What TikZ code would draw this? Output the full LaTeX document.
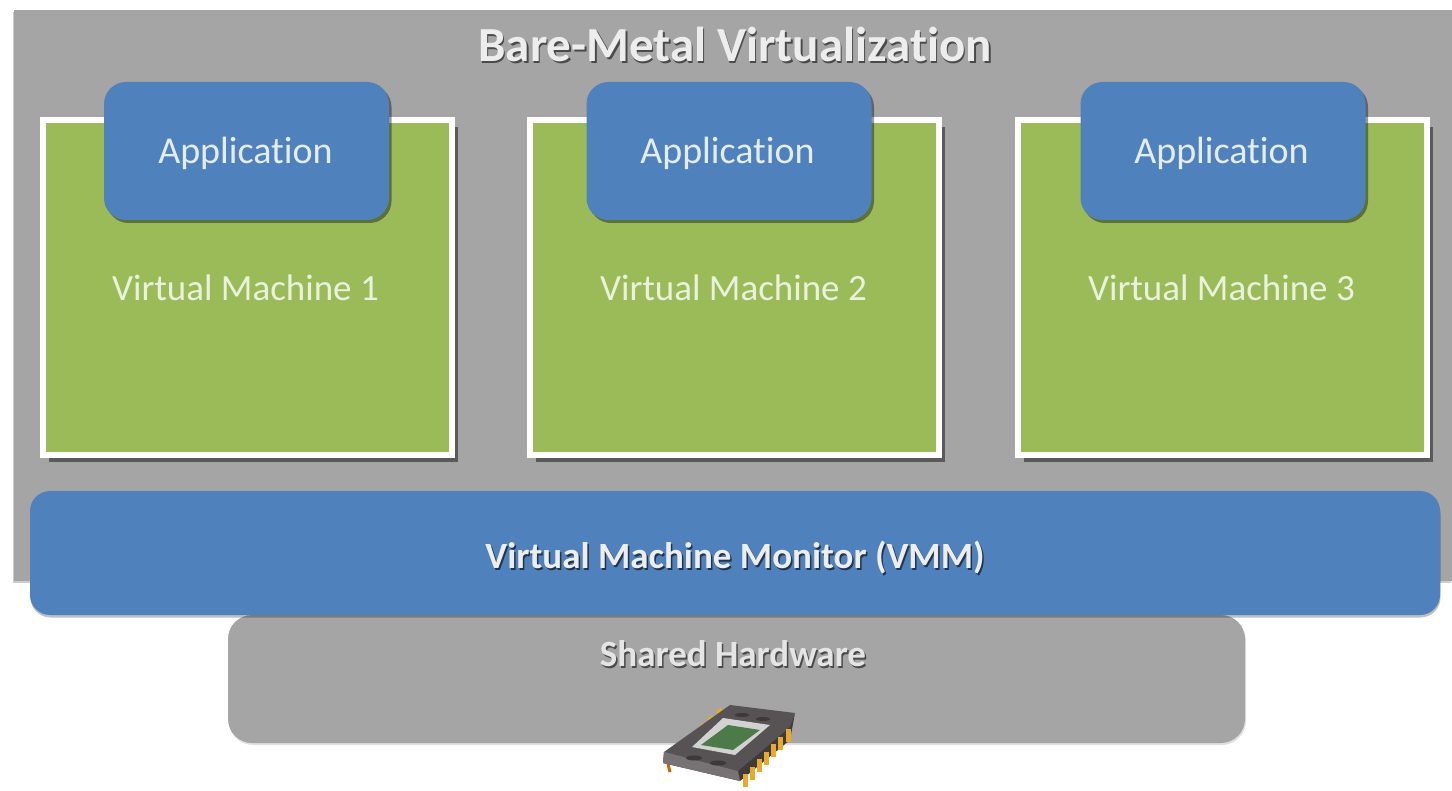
\documentclass[tikz,border=0pt]{standalone}
\usepackage{fontspec}
\setmainfont[Ligatures={NoRequired,NoCommon,NoContextual}]{Carlito}
\usetikzlibrary{shadows,calc}
\definecolor{panelgray}{HTML}{A5A5A5}
\definecolor{boxblue}{HTML}{4F81BD}
\definecolor{vmgreen}{HTML}{9BBB59}
\definecolor{vmtext}{HTML}{EAF1DD}
\definecolor{apptext}{HTML}{E4ECF6}
\definecolor{chipdark}{HTML}{575253}
\definecolor{chipmid}{HTML}{777273}
\definecolor{chipside}{HTML}{3F3B3A}
\definecolor{chipgreen}{HTML}{4C7A48}
\definecolor{pinyellow}{HTML}{E8A92E}
\newcommand{\softshadow}[2][black]{\leavevmode\rlap{\kern1.5pt\raisebox{-2pt}{\textcolor{#1}{#2}}}#2}
\tikzset{
  panel/.style={fill=panelgray,draw=none,inner sep=0pt,
    drop shadow={shadow xshift=-1pt,shadow yshift=-2pt,fill=black,opacity=.2}},
  sharedpanel/.style={fill=panelgray,draw=none,inner sep=0pt,rounded corners=24pt,
    drop shadow={shadow xshift=1pt,shadow yshift=-2pt,fill=black,opacity=.12}},
  vmbox/.style={fill=vmgreen,draw=white,line width=6pt,inner sep=0pt,
    minimum width=409pt,minimum height=335pt,
    drop shadow={shadow xshift=6pt,shadow yshift=-7.5pt,fill=black,opacity=.45}},
  appbox/.style={fill=boxblue,draw=none,rounded corners=22pt,inner sep=0pt,
    minimum width=285pt,minimum height=138pt,
    drop shadow={shadow xshift=2.5pt,shadow yshift=-3pt,fill=black,opacity=.4}},
  vmmbox/.style={fill=boxblue,draw=none,rounded corners=20pt,inner sep=0pt,
    minimum width=1410pt,minimum height=124pt,
    drop shadow={shadow xshift=.5pt,shadow yshift=-2.5pt,fill=black,opacity=.25}},
  applabel/.style={text=apptext,inner sep=0pt,font=\fontsize{38}{44}\selectfont},
  vmlabel/.style={text=vmtext,inner sep=0pt,font=\fontsize{37}{43}\selectfont},
  headlabel/.style={text=white!93!black,inner sep=0pt,font=\bfseries\fontsize{49}{56}\selectfont},
  vmmlabel/.style={text=white!93!black,inner sep=0pt,font=\bfseries\fontsize{37}{44}\selectfont},
  hwlabel/.style={text=white!90!black,inner sep=0pt,font=\bfseries\fontsize{37}{44}\selectfont},
  pin/.style={line width=5pt,draw=pinyellow},
}
\begin{document}
\begin{tikzpicture}[x=1pt,y=-1pt]
\useasboundingbox (0,0) rectangle (1452,791);
\fill[white] (0,0) rectangle (1452,791);
\begin{scope}
\clip (0,0) rectangle (1452,791);
% outer panel
\node[panel,minimum width=1438pt,minimum height=571pt] (outer) at (733,295.5) {};
\node[headlabel] (title) at (735,45) {\softshadow[black!55!panelgray]{Bare-Metal Virtualization}};
% hardware panel
\node[sharedpanel,minimum width=1017pt,minimum height=128pt] (hw) at (736.5,679) {};
\node[hwlabel] (hwtext) at (733,655) {\softshadow[black!55!panelgray]{Shared Hardware}};
% virtual machines
\node[vmbox] (vm1) at (247.5,287.5) {};
\node[vmbox] (vm2) at (734.5,287.5) {};
\node[vmbox] (vm3) at (1222,287.5) {};
\node[vmlabel] (vm1text) at (245.5,288) {Virtual Machine 1};
\node[vmlabel] (vm2text) at (733.5,288) {Virtual Machine 2};
\node[vmlabel] (vm3text) at (1221.5,288) {Virtual Machine 3};
% applications
\node[appbox] (app1) at (246.5,151) {};
\node[appbox] (app2) at (729,151) {};
\node[appbox] (app3) at (1223,151) {};
\node[applabel] (app1text) at (245.5,153) {Application};
\node[applabel] (app2text) at (727.5,153) {Application};
\node[applabel] (app3text) at (1221.5,153) {Application};
% VMM
\node[vmmbox] (vmm) at (735,553) {};
\node[vmmlabel] (vmmtext) at (735,559) {\softshadow[black!60!boxblue]{Virtual Machine Monitor (VMM)}};
% chip
\foreach \i in {0,...,6}{
  \draw[pin] ($(722,710)!\i/6!(672,755)$) -- ++(-5,3);
}
\draw[draw=orange!80!black,line width=3pt] (668,764) -- (670,772);
\fill[chipside] (663,763) -- (740,781) -- (790,740) -- (795,713) -- (790,725) -- (738,770) -- (664,752) -- cycle;
\fill[chipdark] (730,705) -- (795,713) -- (790,727) -- (738,771) -- (664,752) -- cycle;
\fill[chipmid] (664,752) -- (738,771) -- (740,781) -- (663,763) -- cycle;
\fill[chipdark!70!black] (694,758) ellipse (8pt and 2.5pt) (718,763) ellipse (8pt and 2.5pt)
  (742,715) ellipse (7pt and 2pt) (763,719) ellipse (7pt and 2pt);
\fill[gray!35] (723,718) -- (770,725) -- (735,755) -- (692,747) -- cycle;
\fill[chipgreen] (728,725) -- (760,730) -- (733,750) -- (701,745) -- cycle;
\foreach \i in {0,...,6}{
  \draw[pin] ($(788,729)!\i/6!(745,774)$) -- ++(0,13);
}
\end{scope}
\end{tikzpicture}
\end{document}
